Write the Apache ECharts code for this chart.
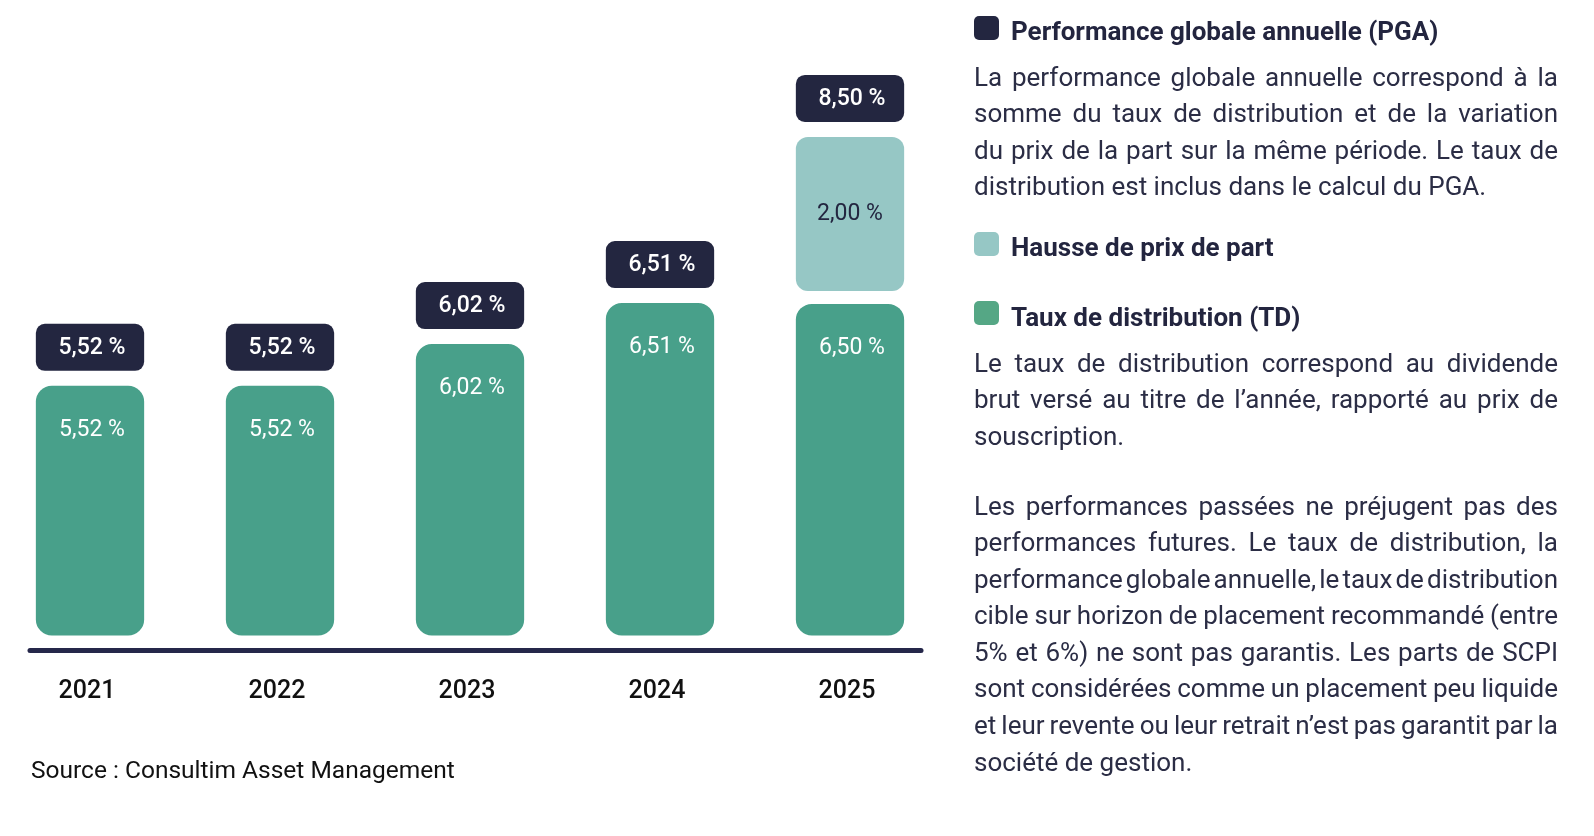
<!DOCTYPE html>
<html>
<head>
<meta charset="utf-8">
<script src="https://cdn.jsdelivr.net/npm/echarts@6/dist/echarts.min.js"></script>
<style>
  html, body { margin: 0; padding: 0; background: #fff; }
  #chart { position: absolute; left: 0; top: 0; width: 1594px; height: 836px; }
  .sq { position: absolute; left: 974px; width: 25px; height: 24px; border-radius: 5px; }
  .hd { position: absolute; left: 1011px; font-family: Roboto; font-weight: bold; font-size: 26px;
        color: #23253f; line-height: 30px; white-space: nowrap; }
  .para { position: absolute; left: 974px; width: 584px; font-family: Roboto; font-size: 26px; color: #2b2d45; }
  .ln { white-space: nowrap; height: 36.6px; line-height: 36.6px; }
  #source { position: absolute; left: 31px; top: 755px; font-family: Roboto; font-size: 24.5px; color: #111;
            line-height: 30px; white-space: nowrap; }
</style>
</head>
<body>
<div id="chart"></div>

<div class="sq" style="top:16px;background:#232640"></div>
<div class="hd" style="top:16px">Performance globale annuelle (PGA)</div>
<div class="para" style="top:58.5px">
  <div class="ln j">La performance globale annuelle correspond à la</div>
  <div class="ln j">somme du taux de distribution et de la variation</div>
  <div class="ln j">du prix de la part sur la même période. Le taux de</div>
  <div class="ln">distribution est inclus dans le calcul du PGA.</div>
</div>

<div class="sq" style="top:232px;background:#96c7c5"></div>
<div class="hd" style="top:232px">Hausse de prix de part</div>

<div class="sq" style="top:301px;background:#55a785"></div>
<div class="hd" style="top:302px">Taux de distribution (TD)</div>
<div class="para" style="top:344.5px">
  <div class="ln j">Le taux de distribution correspond au dividende</div>
  <div class="ln j">brut versé au titre de l’année, rapporté au prix de</div>
  <div class="ln">souscription.</div>
</div>

<div class="para" style="top:487.5px">
  <div class="ln j">Les performances passées ne préjugent pas des</div>
  <div class="ln j">performances futures. Le taux de distribution, la</div>
  <div class="ln j">performance globale annuelle, le taux de distribution</div>
  <div class="ln j">cible sur horizon de placement recommandé (entre</div>
  <div class="ln j">5% et 6%) ne sont pas garantis. Les parts de SCPI</div>
  <div class="ln j">sont considérées comme un placement peu liquide</div>
  <div class="ln j">et leur revente ou leur retrait n’est pas garantit par la</div>
  <div class="ln">société de gestion.</div>
</div>

<div id="source">Source : Consultim Asset Management</div>

<script>
// ---- data ----
const years = ['2021', '2022', '2023', '2024', '2025'];
const tauxDistribution = [5.52, 5.52, 6.02, 6.51, 6.50];
const haussePrixPart = [0, 0, 0, 0, 2.00];
const performanceGlobale = [5.52, 5.52, 6.02, 6.51, 8.50];

// ---- justify lines precisely ----
document.querySelectorAll('.ln.j').forEach(function (el) {
  const W = 584;
  const span = document.createElement('span');
  span.textContent = el.textContent.trim();
  el.textContent = '';
  el.appendChild(span);
  const natural = span.getBoundingClientRect().width;
  const spaces = span.textContent.split(' ').length - 1;
  if (spaces > 0) el.style.wordSpacing = ((W - natural) / spaces) + 'px';
});

const fmt = v => v.toFixed(2).replace('.', ',') + ' %';
const Y_MIN = 2.53, Y_MAX = 9.66;
const NAVY = '#232640', GREEN = '#48a08a', TEAL = '#96c7c5';
const BAR_WIDTH_RATIO = 0.57; // of the distance between two categories

const chart = echarts.init(document.getElementById('chart'));
chart.setOption({
  animation: false,
  grid: [
    { left: 90, width: 760, top: 40, bottom: 200.5 },
    { left: 30, right: 673, top: 40, bottom: 185.5 }
  ],
  xAxis: [
    {
      type: 'category', gridIndex: 0, data: years, boundaryGap: false,
      axisLine: { show: false }, axisTick: { show: false }, splitLine: { show: false },
      axisLabel: { margin: 44, fontSize: 25, fontWeight: 500, color: '#111', fontFamily: 'Roboto',
                   padding: [0, 6, 0, 0] }
    },
    {
      type: 'category', gridIndex: 1, data: [''],
      axisLine: { show: true, lineStyle: { color: '#25274a', width: 5 } },
      axisTick: { show: false }, axisLabel: { show: false }
    }
  ],
  yAxis: [
    { type: 'value', gridIndex: 0, min: Y_MIN, max: Y_MAX, show: false },
    { type: 'value', gridIndex: 1, show: false }
  ],
  series: [
    {
      name: 'Taux de distribution (TD)', type: 'custom', xAxisIndex: 0, yAxisIndex: 0,
      data: years.map((y, i) => [i, tauxDistribution[i]]),
      encode: { x: 0, y: 1 },
      renderItem: function (params, api) {
        const i = api.value(0), v = api.value(1);
        const w = api.size([1, 0])[0] * BAR_WIDTH_RATIO;
        const top = api.coord([i, v]);
        const base = api.coord([i, Y_MIN]);
        return {
          type: 'group', children: [
            { type: 'rect', shape: { x: top[0] - w / 2, y: top[1], width: w, height: base[1] - top[1], r: 16 },
              style: { fill: GREEN } },
            { type: 'text', style: { text: fmt(v), x: top[0] + 2, y: top[1] + 44, fill: '#fff',
              fontSize: 23, fontFamily: 'Roboto', align: 'center', verticalAlign: 'middle' } }
          ]
        };
      }
    },
    {
      name: 'Hausse de prix de part', type: 'custom', xAxisIndex: 0, yAxisIndex: 0,
      data: years.map((y, i) => [i, tauxDistribution[i] + haussePrixPart[i], tauxDistribution[i], haussePrixPart[i]]),
      encode: { x: 0, y: 1 },
      renderItem: function (params, api) {
        const i = api.value(0), topV = api.value(1), botV = api.value(2), hp = api.value(3);
        if (!hp) return null;
        const w = api.size([1, 0])[0] * BAR_WIDTH_RATIO;
        const top = api.coord([i, topV]);
        const bot = api.coord([i, botV]);
        const yb = bot[1] - 13;
        return {
          type: 'group', children: [
            { type: 'rect', shape: { x: top[0] - w / 2, y: top[1], width: w, height: yb - top[1], r: 12 },
              style: { fill: TEAL } },
            { type: 'text', style: { text: fmt(hp), x: top[0], y: (top[1] + yb) / 2, fill: NAVY,
              fontSize: 23, fontFamily: 'Roboto', align: 'center', verticalAlign: 'middle' } }
          ]
        };
      }
    },
    {
      name: 'Performance globale annuelle (PGA)', type: 'custom', xAxisIndex: 0, yAxisIndex: 0,
      data: years.map((y, i) => [i, performanceGlobale[i]]),
      encode: { x: 0, y: 1 },
      renderItem: function (params, api) {
        const i = api.value(0), v = api.value(1);
        const w = api.size([1, 0])[0] * BAR_WIDTH_RATIO;
        const p = api.coord([i, v]);
        const h = 47;
        const yb = p[1] - 15;
        return {
          type: 'group', children: [
            { type: 'rect', shape: { x: p[0] - w / 2, y: yb - h, width: w, height: h, r: 9 },
              style: { fill: NAVY } },
            { type: 'text', style: { text: fmt(v), x: p[0] + 2, y: yb - h / 2 + 1, fill: '#fff',
              fontSize: 23, fontWeight: 500, fontFamily: 'Roboto', align: 'center', verticalAlign: 'middle' } }
          ]
        };
      }
    }
  ]
});
</script>
</body>
</html>
